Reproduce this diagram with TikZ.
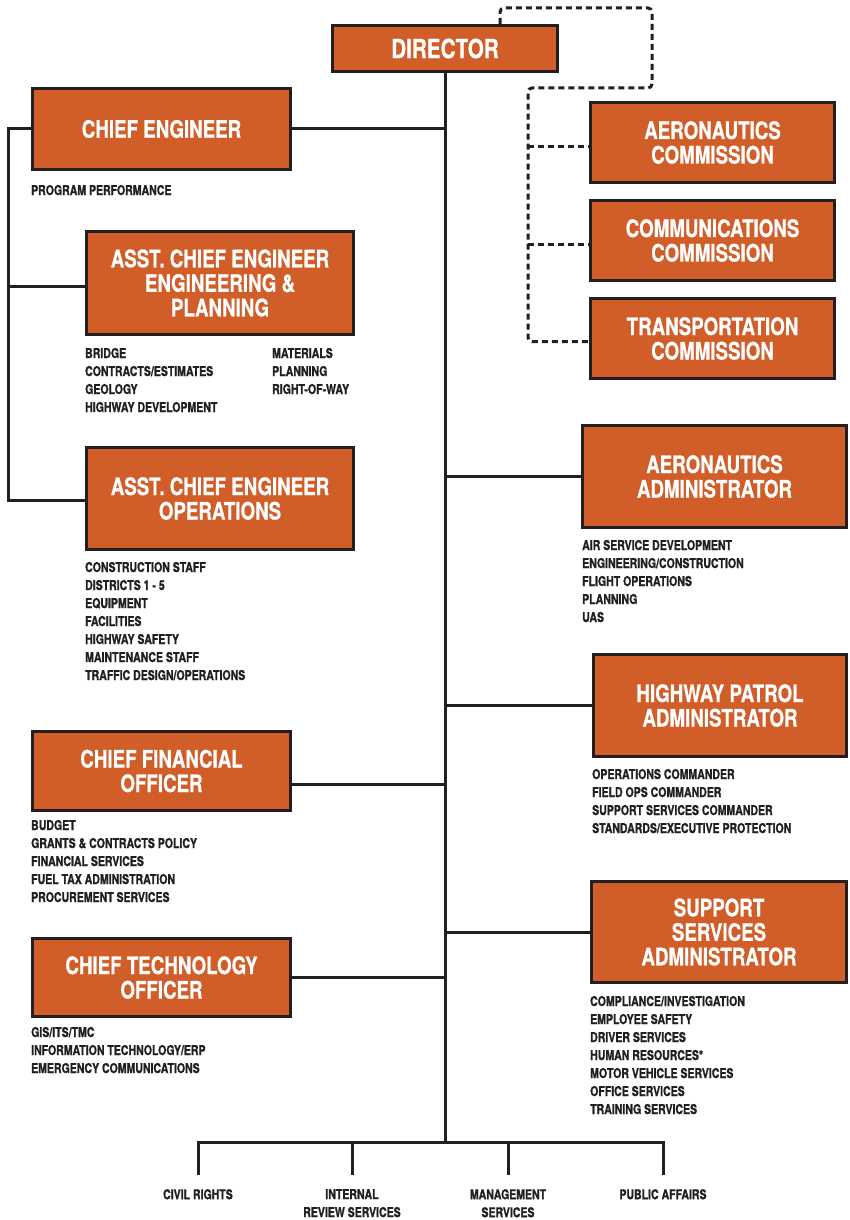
\documentclass[tikz,border=0pt]{standalone}
\usepackage{fontspec}
\newfontfamily\cond[FakeStretch=0.78,BoldFeatures={FakeBold=0.6}]{TeX Gyre Heros}
\newfontfamily\condsmall[FakeStretch=0.78,BoldFeatures={FakeBold=1.2}]{TeX Gyre Heros}
\definecolor{rust}{HTML}{D15D28}
\definecolor{ink}{HTML}{231F20}

\begin{document}
\begin{tikzpicture}[x=1pt,y=-1pt,
    unit/.style={draw=ink,line width=3pt,fill=rust,text=white,align=center,inner sep=0pt,
      font=\cond\bfseries\fontsize{24}{24.5}\selectfont},
    item/.style={text=ink,inner sep=0pt,font=\condsmall\bfseries\fontsize{13.5}{18}\selectfont},
    link/.style={draw=ink,line width=3pt},
    dashlink/.style={draw=ink,line width=3pt,dash pattern=on 6pt off 4pt}]
\useasboundingbox (0,0) rectangle (850,1220);
% boxes
\node[unit,minimum width=225pt,minimum height=46pt,font=\cond\bfseries\fontsize{26.5}{27}\selectfont] (director) at (445,48.5) {DIRECTOR};
\node[unit,minimum width=244pt,minimum height=80pt] (aerocomm) at (712.5,142.5) {AERONAUTICS\\COMMISSION};
\node[unit,minimum width=244pt,minimum height=80pt] (commcomm) at (712.5,240.5) {COMMUNICATIONS\\COMMISSION};
\node[unit,minimum width=244pt,minimum height=80pt] (transcomm) at (712.5,338.5) {TRANSPORTATION\\COMMISSION};
\node[unit,minimum width=258pt,minimum height=81pt] (chiefeng) at (161.5,129) {CHIEF ENGINEER};
\node[unit,minimum width=267pt,minimum height=103pt] (engplan) at (220,283) {ASST. CHIEF ENGINEER\\ENGINEERING \&\\PLANNING};
\node[unit,minimum width=267pt,minimum height=102pt] (ops) at (220,498.5) {ASST. CHIEF ENGINEER\\OPERATIONS};
\node[unit,minimum width=264pt,minimum height=102pt] (aeroadmin) at (714.5,476.5) {AERONAUTICS\\ADMINISTRATOR};
\node[unit,minimum width=253pt,minimum height=102pt] (hpa) at (720,705.5) {HIGHWAY PATROL\\ADMINISTRATOR};
\node[unit,minimum width=258pt,minimum height=79pt] (cfo) at (161.5,771) {CHIEF FINANCIAL\\OFFICER};
\node[unit,minimum width=258pt,minimum height=78pt] (cto) at (161.5,977.5) {CHIEF TECHNOLOGY\\OFFICER};
\node[unit,minimum width=255pt,minimum height=101pt] (ssa) at (719,932) {SUPPORT\\SERVICES\\ADMINISTRATOR};

% lists
\node[item,anchor=base west] (chiefeng-1) at (31,195) {PROGRAM PERFORMANCE};
\foreach \t [count=\i] in {BRIDGE,CONTRACTS/ESTIMATES,GEOLOGY,HIGHWAY DEVELOPMENT}
  \node[item,anchor=base west] (engplan-a\i) at (85,{358+18*(\i-1)}) {\t};
\foreach \t [count=\i] in {MATERIALS,PLANNING,RIGHT-OF-WAY}
  \node[item,anchor=base west] (engplan-b\i) at (272,{358+18*(\i-1)}) {\t};
\foreach \t [count=\i] in {CONSTRUCTION STAFF,DISTRICTS 1 - 5,EQUIPMENT,FACILITIES,HIGHWAY SAFETY,MAINTENANCE STAFF,TRAFFIC DESIGN/OPERATIONS}
  \node[item,anchor=base west] (ops-\i) at (85,{572+18*(\i-1)}) {\t};
\foreach \t [count=\i] in {AIR SERVICE DEVELOPMENT,ENGINEERING/CONSTRUCTION,FLIGHT OPERATIONS,PLANNING,UAS}
  \node[item,anchor=base west] (aeroadmin-\i) at (582,{550+18*(\i-1)}) {\t};
\foreach \t [count=\i] in {OPERATIONS COMMANDER,FIELD OPS COMMANDER,SUPPORT SERVICES COMMANDER,STANDARDS/EXECUTIVE PROTECTION}
  \node[item,anchor=base west] (hpa-\i) at (592,{779+18*(\i-1)}) {\t};
\foreach \t [count=\i] in {BUDGET,GRANTS \& CONTRACTS POLICY,FINANCIAL SERVICES,FUEL TAX ADMINISTRATION,PROCUREMENT SERVICES}
  \node[item,anchor=base west] (cfo-\i) at (31,{830+18*(\i-1)}) {\t};
\foreach \t [count=\i] in {GIS/ITS/TMC,INFORMATION TECHNOLOGY/ERP,EMERGENCY COMMUNICATIONS}
  \node[item,anchor=base west] (cto-\i) at (31,{1037+18*(\i-1)}) {\t};
\foreach \t [count=\i] in {COMPLIANCE/INVESTIGATION,EMPLOYEE SAFETY,DRIVER SERVICES,HUMAN RESOURCES*,MOTOR VEHICLE SERVICES,OFFICE SERVICES,TRAINING SERVICES}
  \node[item,anchor=base west] (ssa-\i) at (590,{1006+18*(\i-1)}) {\t};

% solid lines
\coordinate (trunk) at (445,1142);
\coordinate (lbus) at (8,129);
\coordinate (cfo-tap) at ([yshift=-13pt]cfo.east);
\draw[link] (director.south) -- (trunk);
\draw[link] (chiefeng.east) -- (chiefeng.east -| director.south);
\draw[link] (aeroadmin.west) -- (aeroadmin.west -| director.south);
\draw[link] (hpa.west) -- (hpa.west -| director.south);
\draw[link] (cfo-tap) -- (cfo-tap -| director.south);
\draw[link] (ssa.west) -- (ssa.west -| director.south);
\draw[link] (cto.east) -- (cto.east -| director.south);
\draw[link] (chiefeng.west) -- (lbus) |- ([yshift=-1.5pt]ops.west);
\draw[link] ([yshift=-3pt]engplan.west -| lbus) -- ([yshift=-3pt]engplan.west);

% staff offices
\foreach \x/\nm/\txt in {198/civil/{CIVIL RIGHTS},352/review/{INTERNAL\\REVIEW SERVICES},508/mgmt/{MANAGEMENT\\SERVICES},663/public/{PUBLIC AFFAIRS}}{
  \coordinate (\nm-top) at (\x,1175);
  \node[item,align=center,anchor=north] (\nm) at (\x,1189) {\txt};
}
\draw[link] (civil-top) |- (public-top |- trunk) -- (public-top);
\draw[link] (review-top |- trunk) -- (review-top);
\draw[link] (mgmt-top |- trunk) -- (mgmt-top);

% commissions
\coordinate (loop-ne) at (652,8);
\coordinate (loop-sw) at (528,88);
\draw[dashlink,rounded corners=4pt] ([xshift=55pt]director.north) |- (loop-ne) |- (loop-sw) |- ([yshift=-3pt]transcomm.west);
\draw[dashlink] ([yshift=-4pt]aerocomm.west -| loop-sw) -- ([yshift=-4pt]aerocomm.west);
\draw[dashlink] ([yshift=-4pt]commcomm.west -| loop-sw) -- ([yshift=-4pt]commcomm.west);
\end{tikzpicture}
\end{document}
